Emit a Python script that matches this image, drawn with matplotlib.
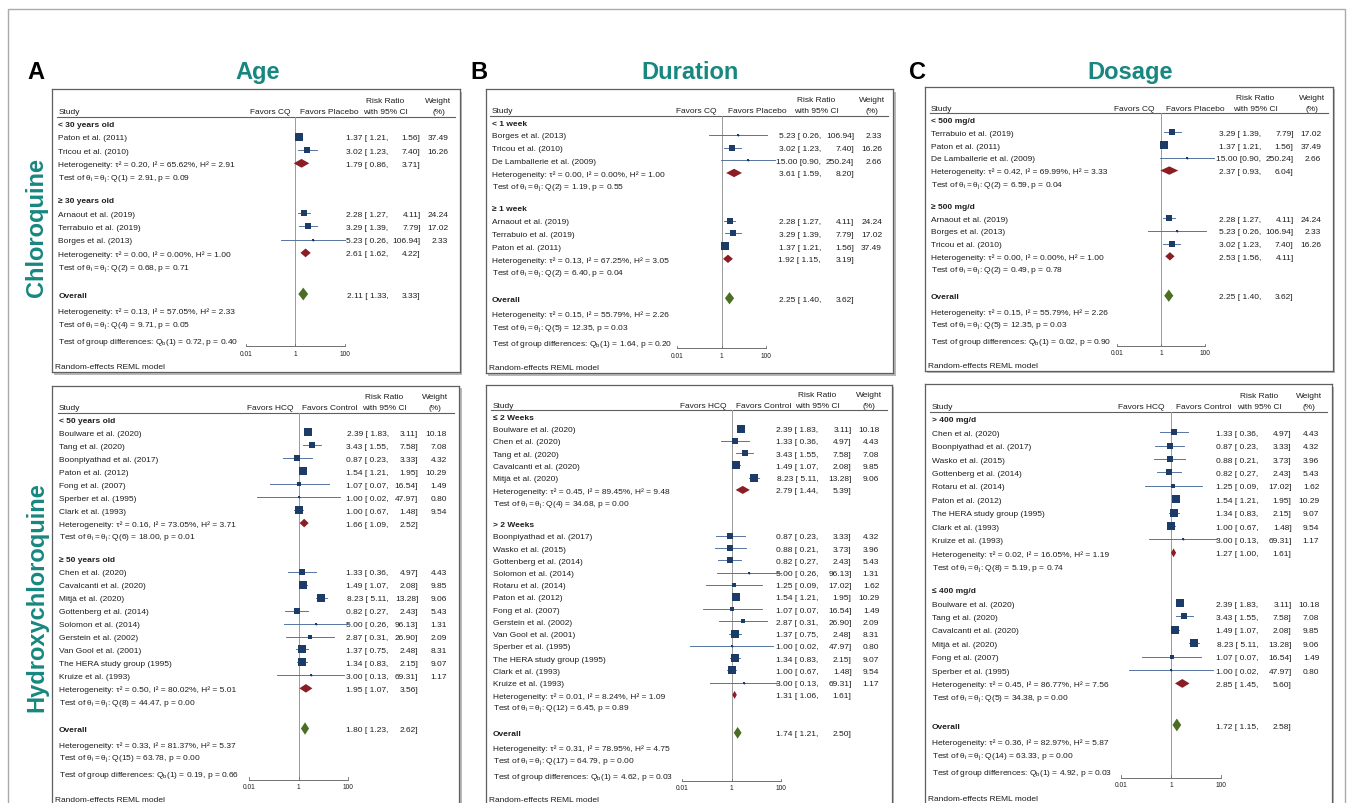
import numpy as np
import matplotlib
matplotlib.use('Agg')
import matplotlib.pyplot as plt
from matplotlib.patches import Rectangle

plt.rcParams['font.family'] = ['Liberation Sans', 'DejaVu Sans']
plt.rcParams['mathtext.fontset'] = 'custom'
plt.rcParams['mathtext.rm'] = 'Liberation Sans'
plt.rcParams['mathtext.it'] = 'Liberation Sans:italic'
plt.rcParams['mathtext.bf'] = 'Liberation Sans:bold'

# colours
TEAL = '#17877f'
INK = '#1e1e1e'
NAVY = '#1c3b66'
CI_BLUE = '#4b6b9b'
RED = '#8b1d25'
GREEN = '#4b6e24'
NULL_GRAY = '#9a9a9a'
BORDER = '#5f5f5f'
SHADOW = '#b8b8b8'

W, H = 1353, 804
TICKS = [0.01, 1, 100]
TICK_LABELS = ['0.01', '1', '100']

# ---- study level data ----
CQ_STUDY = ['Paton et al. (2011)', 'Tricou et al. (2010)', 'Arnaout et al. (2019)',
            'Terrabuio et al. (2019)', 'Borges et al. (2013)', 'De Lamballerie et al. (2009)']
CQ_RR = [1.37, 3.02, 2.28, 3.29, 5.23, 15.00]
CQ_LO = [1.21, 1.23, 1.27, 1.39, 0.26, 0.90]
CQ_HI = [1.56, 7.40, 4.11, 7.79, 106.94, 250.24]
CQ_WT = [37.49, 16.26, 24.24, 17.02, 2.33, 2.66]

HCQ_STUDY = ['Boulware et al. (2020)', 'Tang et al. (2020)', 'Boonpiyathad et al. (2017)',
             'Paton et al. (2012)', 'Fong et al. (2007)', 'Sperber et al. (1995)',
             'Clark et al. (1993)', 'Chen et al. (2020)', 'Cavalcanti et al. (2020)',
             'Mitjà et al. (2020)', 'Gottenberg et al. (2014)', 'Solomon et al. (2014)',
             'Gerstein et al. (2002)', 'Van Gool et al. (2001)', 'The HERA study group (1995)',
             'Kruize et al. (1993)', 'Wasko et al. (2015)', 'Rotaru et al. (2014)']
HCQ_RR = [2.39, 3.43, 0.87, 1.54, 1.07, 1.00, 1.00, 1.33, 1.49, 8.23, 0.82, 5.00,
          2.87, 1.37, 1.34, 3.00, 0.88, 1.25]
HCQ_LO = [1.83, 1.55, 0.23, 1.21, 0.07, 0.02, 0.67, 0.36, 1.07, 5.11, 0.27, 0.26,
          0.31, 0.75, 0.83, 0.13, 0.21, 0.09]
HCQ_HI = [3.11, 7.58, 3.33, 1.95, 16.54, 47.97, 1.48, 4.97, 2.08, 13.28, 2.43, 96.13,
          26.90, 2.48, 2.15, 69.31, 3.73, 17.02]
HCQ_WT = [10.18, 7.08, 4.32, 10.29, 1.49, 0.80, 9.54, 4.43, 9.85, 9.06, 5.43, 1.31,
          2.09, 8.31, 9.07, 1.17, 3.96, 1.62]

# ---- subgroup data (pooled: subgroups then overall) ----
A_CQ_GROUPS = ['< 30 years old', '≥ 30 years old']
A_CQ_MEMBERS = [['Paton et al. (2011)', 'Tricou et al. (2010)'],
                ['Arnaout et al. (2019)', 'Terrabuio et al. (2019)', 'Borges et al. (2013)']]
A_CQ_POOLED = [(1.79, 0.86, 3.71), (2.61, 1.62, 4.22), (2.11, 1.33, 3.33)]
A_CQ_HET = [(0.20, 65.62, 2.91), (0.00, 0.00, 1.00), (0.13, 57.05, 2.33)]
A_CQ_Q = [(1, 2.91, 0.09), (2, 0.68, 0.71), (4, 9.71, 0.05)]
A_CQ_QB = (1, 0.72, 0.40)

B_CQ_GROUPS = ['< 1 week', '≥ 1 week']
B_CQ_MEMBERS = [['Borges et al. (2013)', 'Tricou et al. (2010)', 'De Lamballerie et al. (2009)'],
                ['Arnaout et al. (2019)', 'Terrabuio et al. (2019)', 'Paton et al. (2011)']]
B_CQ_POOLED = [(3.61, 1.59, 8.20), (1.92, 1.15, 3.19), (2.25, 1.40, 3.62)]
B_CQ_HET = [(0.00, 0.00, 1.00), (0.13, 67.25, 3.05), (0.15, 55.79, 2.26)]
B_CQ_Q = [(2, 1.19, 0.55), (2, 6.40, 0.04), (5, 12.35, 0.03)]
B_CQ_QB = (1, 1.64, 0.20)

C_CQ_GROUPS = ['< 500 mg/d', '≥ 500 mg/d']
C_CQ_MEMBERS = [['Terrabuio et al. (2019)', 'Paton et al. (2011)', 'De Lamballerie et al. (2009)'],
                ['Arnaout et al. (2019)', 'Borges et al. (2013)', 'Tricou et al. (2010)']]
C_CQ_POOLED = [(2.37, 0.93, 6.04), (2.53, 1.56, 4.11), (2.25, 1.40, 3.62)]
C_CQ_HET = [(0.42, 69.99, 3.33), (0.00, 0.00, 1.00), (0.15, 55.79, 2.26)]
C_CQ_Q = [(2, 6.59, 0.04), (2, 0.49, 0.78), (5, 12.35, 0.03)]
C_CQ_QB = (1, 0.02, 0.90)

A_HCQ_GROUPS = ['< 50 years old', '≥ 50 years old']
A_HCQ_MEMBERS = [['Boulware et al. (2020)', 'Tang et al. (2020)', 'Boonpiyathad et al. (2017)',
                  'Paton et al. (2012)', 'Fong et al. (2007)', 'Sperber et al. (1995)',
                  'Clark et al. (1993)'],
                 ['Chen et al. (2020)', 'Cavalcanti et al. (2020)', 'Mitjà et al. (2020)',
                  'Gottenberg et al. (2014)', 'Solomon et al. (2014)', 'Gerstein et al. (2002)',
                  'Van Gool et al. (2001)', 'The HERA study group (1995)', 'Kruize et al. (1993)']]
A_HCQ_POOLED = [(1.66, 1.09, 2.52), (1.95, 1.07, 3.56), (1.80, 1.23, 2.62)]
A_HCQ_HET = [(0.16, 73.05, 3.71), (0.50, 80.02, 5.01), (0.33, 81.37, 5.37)]
A_HCQ_Q = [(6, 18.00, 0.01), (8, 44.47, 0.00), (15, 63.78, 0.00)]
A_HCQ_QB = (1, 0.19, 0.66)

B_HCQ_GROUPS = ['≤ 2 Weeks', '> 2 Weeks']
B_HCQ_MEMBERS = [['Boulware et al. (2020)', 'Chen et al. (2020)', 'Tang et al. (2020)',
                  'Cavalcanti et al. (2020)', 'Mitjà et al. (2020)'],
                 ['Boonpiyathad et al. (2017)', 'Wasko et al. (2015)', 'Gottenberg et al. (2014)',
                  'Solomon et al. (2014)', 'Rotaru et al. (2014)', 'Paton et al. (2012)',
                  'Fong et al. (2007)', 'Gerstein et al. (2002)', 'Van Gool et al. (2001)',
                  'Sperber et al. (1995)', 'The HERA study group (1995)', 'Clark et al. (1993)',
                  'Kruize et al. (1993)']]
B_HCQ_POOLED = [(2.79, 1.44, 5.39), (1.31, 1.06, 1.61), (1.74, 1.21, 2.50)]
B_HCQ_HET = [(0.45, 89.45, 9.48), (0.01, 8.24, 1.09), (0.31, 78.95, 4.75)]
B_HCQ_Q = [(4, 34.68, 0.00), (12, 6.45, 0.89), (17, 64.79, 0.00)]
B_HCQ_QB = (1, 4.62, 0.03)

C_HCQ_GROUPS = ['> 400 mg/d', '≤ 400 mg/d']
C_HCQ_MEMBERS = [['Chen et al. (2020)', 'Boonpiyathad et al. (2017)', 'Wasko et al. (2015)',
                  'Gottenberg et al. (2014)', 'Rotaru et al. (2014)', 'Paton et al. (2012)',
                  'The HERA study group (1995)', 'Clark et al. (1993)', 'Kruize et al. (1993)'],
                 ['Boulware et al. (2020)', 'Tang et al. (2020)', 'Cavalcanti et al. (2020)',
                  'Mitjà et al. (2020)', 'Fong et al. (2007)', 'Sperber et al. (1995)']]
C_HCQ_POOLED = [(1.27, 1.00, 1.61), (2.85, 1.45, 5.60), (1.72, 1.15, 2.58)]
C_HCQ_HET = [(0.02, 16.05, 1.19), (0.45, 86.77, 7.56), (0.36, 82.97, 5.87)]
C_HCQ_Q = [(8, 5.19, 0.74), (5, 34.38, 0.00), (14, 63.33, 0.00)]
C_HCQ_QB = (1, 4.92, 0.03)

STUDY_TABLES = {
    'CQ': (CQ_STUDY, CQ_RR, CQ_LO, CQ_HI, CQ_WT),
    'HCQ': (HCQ_STUDY, HCQ_RR, HCQ_LO, HCQ_HI, HCQ_WT),
}

# layout of each panel box, pixel offsets inside the box
PANELS = [
    dict(drug='CQ', data=(A_CQ_GROUPS, A_CQ_MEMBERS, A_CQ_POOLED, A_CQ_HET, A_CQ_Q, A_CQ_QB),
         box=(51.7, 90, 460, 373.3), study_x=6.6, null=243.6, dec=24.6,
         comma=336.6, hi=369, wt=396.6, rr_c=333.8, wt_c=386.8,
         favors=('Favors CQ', 'Favors Placebo'), gap=(5, 5)),
    dict(drug='CQ', data=(B_CQ_GROUPS, B_CQ_MEMBERS, B_CQ_POOLED, B_CQ_HET, B_CQ_Q, B_CQ_QB),
         box=(486, 90, 893, 374.3), study_x=5.7, null=235.7, dec=22.2,
         comma=335, hi=368, wt=396, rr_c=330, wt_c=386.3,
         favors=('Favors CQ', 'Favors Placebo'), gap=(5, 6)),
    dict(drug='CQ', data=(C_CQ_GROUPS, C_CQ_MEMBERS, C_CQ_POOLED, C_CQ_HET, C_CQ_Q, C_CQ_QB),
         box=(924.7, 87.7, 1332.7, 371.7), study_x=6.3, null=236.3, dec=22.1,
         comma=336.3, hi=369, wt=396.6, rr_c=330.6, wt_c=387,
         favors=('Favors CQ', 'Favors Placebo'), gap=(6, 5)),
    dict(drug='HCQ', data=(A_HCQ_GROUPS, A_HCQ_MEMBERS, A_HCQ_POOLED, A_HCQ_HET, A_HCQ_Q, A_HCQ_QB),
         box=(52.3, 386.7, 459.3, 806), study_x=6.7, null=246.4, dec=24.8,
         comma=336.4, hi=366, wt=394.4, rr_c=332, wt_c=382.7,
         favors=('Favors HCQ', 'Favors Control'), gap=(5, 3)),
    dict(drug='HCQ', data=(B_HCQ_GROUPS, B_HCQ_MEMBERS, B_HCQ_POOLED, B_HCQ_HET, B_HCQ_Q, B_HCQ_QB),
         box=(486, 385.7, 891.7, 806), study_x=6.7, null=245.7, dec=24.75,
         comma=332.3, hi=365.7, wt=393.3, rr_c=331.3, wt_c=383.3,
         favors=('Favors HCQ', 'Favors Control'), gap=(5, 4)),
    dict(drug='HCQ', data=(C_HCQ_GROUPS, C_HCQ_MEMBERS, C_HCQ_POOLED, C_HCQ_HET, C_HCQ_Q, C_HCQ_QB),
         box=(925, 385, 1331.7, 805), study_x=6.7, null=246, dec=24.8,
         comma=333.3, hi=366.7, wt=394.3, rr_c=334.5, wt_c=384.3,
         favors=('Favors HCQ', 'Favors Control'), gap=(6, 5.5)),
]

FS = 6.0  # main text size (pt)
TDY = 0.08  # small downward nudge of text rows


def fig_rect(x0, y0, x1, y1):
    return [x0 / W, 1 - y1 / H, (x1 - x0) / W, (y1 - y0) / H]


def est_text(e, lo):
    if e >= 10:
        return f"{e:.2f} [{lo:.2f},"
    return f"{e:.2f} [ {lo:.2f},"


def draw_panel(fig, p):
    x0, y0, x1, y1 = p['box']
    groups, members, pooled, het, qs, qb = p['data']
    study, rr, lo, hi, wt = STUDY_TABLES[p['drug']]
    idx = {n: i for i, n in enumerate(study)}

    # row positions (row units)
    rows = []
    y = 0.0
    for gi, names in enumerate(members):
        if gi:
            y += 1.75
        rows.append(('group', y, gi))
        for n in names:
            y += 1.0
            rows.append(('study', y, idx[n]))
        y += 1.0
        rows.append(('het', y, gi))
        y += 1.0
        rows.append(('test', y, gi))
    ng = len(members)
    y += 2.1
    rows.append(('overall', y, ng))
    y += 1.2
    rows.append(('het', y, ng))
    y += 1.0
    rows.append(('test', y, ng))
    y += 1.3
    rows.append(('qb', y, None))
    G = y
    ylim = (G + 2.4, -2.6)

    # shadow + framed box
    fig.add_artist(Rectangle(((x0 + 2.5) / W, 1 - (y1 + 2.5) / H), (x1 - x0) / W, (y1 - y0) / H,
                             transform=fig.transFigure, facecolor=SHADOW,
                             edgecolor='none', zorder=0))
    ax = fig.add_axes(fig_rect(x0, y0, x1, y1))
    ax.set_zorder(1)
    ax.set_xlim(0, x1 - x0)
    ax.set_ylim(*ylim)
    ax.set_xticks([])
    ax.set_yticks([])
    for s in ax.spines.values():
        s.set_color(BORDER)
        s.set_linewidth(0.9)

    null, dec = p['null'], p['dec']
    fx = fig.add_axes(fig_rect(x0 + null - 2 * dec, y0, x0 + null + 2 * dec, y1))
    fx.set_zorder(2)
    fx.patch.set_alpha(0)
    fx.set_xscale('log')
    fx.set_xlim(TICKS[0], TICKS[-1])
    fx.set_ylim(*ylim)
    fx.axis('off')

    sx = p['study_x']

    def put(x, yy, s, ha='left', **kw):
        ax.text(x, yy + TDY, s, fontsize=FS, color=INK, ha=ha, va='center', **kw)

    # header
    put(sx, -1.0, 'Study')
    put(null - p['gap'][0], -1.0, p['favors'][0], ha='right')
    put(null + p['gap'][1], -1.0, p['favors'][1])
    put(p['rr_c'], -1.85, 'Risk Ratio', ha='center')
    put(p['rr_c'], -1.0, 'with 95% CI', ha='center')
    put(p['wt_c'], -1.85, 'Weight', ha='center')
    put(p['wt_c'], -1.0, '(%)', ha='center')
    ax.plot([sx - 1.5, x1 - x0 - 5], [-0.5, -0.5], color=BORDER, lw=0.8)

    # null line and x axis
    axis_y = G + 0.45
    fx.plot([1, 1], [-0.5, axis_y], color=NULL_GRAY, lw=0.7, zorder=1)
    fx.plot([TICKS[0], TICKS[-1]], [axis_y, axis_y], color='#707070', lw=0.7, clip_on=False)
    for t, lab in zip(TICKS, TICK_LABELS):
        fx.plot([t, t], [axis_y, axis_y - 0.18], color='#707070', lw=0.6, clip_on=False)
        fx.text(t, G + 0.98, lab, fontsize=4.8, color=INK, ha='center', va='center')
    put(3, G + 1.9, 'Random-effects REML model')

    wmax = max(wt[idx[n]] for names in members for n in names)

    for kind, yy, k in rows:
        if kind == 'group':
            put(sx, yy, groups[k], fontweight='bold')
        elif kind == 'study':
            e, l, h, w = rr[k], lo[k], hi[k], wt[k]
            put(sx, yy, study[k])
            fx.plot([l, h], [yy, yy], color=CI_BLUE, lw=0.65, clip_on=False, zorder=2)
            side = 8.3 * np.sqrt(w / wmax) * 0.72
            fx.scatter([e], [yy], marker='s', s=side ** 2, color=NAVY, lw=0,
                       clip_on=False, zorder=3)
            fx.plot([e], [yy], 'o', ms=1.4, color=NAVY, mew=0, clip_on=False, zorder=4)
            put(p['comma'], yy, est_text(e, l), ha='right')
            put(p['hi'], yy, f"{h:.2f}]", ha='right')
            put(p['wt'], yy, f"{w:.2f}", ha='right')
        elif kind == 'het':
            t2, i2, h2 = het[k]
            put(sx, yy, f"Heterogeneity: τ² = {t2:.2f}, I² = {i2:.2f}%, H² = {h2:.2f}")
            if k < ng:
                e, l, h = pooled[k]
                dh = 0.33
                fx.fill([l, e, h, e], [yy, yy - dh, yy, yy + dh], color=RED, lw=0,
                        clip_on=False, zorder=3)
                put(p['comma'], yy, est_text(e, l), ha='right')
                put(p['hi'], yy, f"{h:.2f}]", ha='right')
        elif kind == 'test':
            df, q, pv = qs[k]
            put(sx, yy, f"Test of $\\mathregular{{\\theta_i = \\theta_j}}$: Q({df}) = {q:.2f}, p = {pv:.2f}")
        elif kind == 'overall':
            e, l, h = pooled[k]
            put(sx, yy, 'Overall', fontweight='bold')
            dh = 0.48
            fx.fill([l, e, h, e], [yy, yy - dh, yy, yy + dh], color=GREEN, lw=0,
                    clip_on=False, zorder=3)
            put(p['comma'], yy, est_text(e, l), ha='right')
            put(p['hi'], yy, f"{h:.2f}]", ha='right')
        elif kind == 'qb':
            df, q, pv = qb
            put(sx, yy, f"Test of group differences: $\\mathregular{{Q_b}}$({df}) = {q:.2f}, p = {pv:.2f}")


fig = plt.figure(figsize=(W / 100, H / 100), dpi=100)
fig.patch.set_facecolor('white')

# outer frame
fig.add_artist(Rectangle((8 / W, 1 - 830 / H), (1345 - 8) / W, (830 - 10) / H,
                         transform=fig.transFigure, facecolor='none',
                         edgecolor='#aaaaaa', lw=1.0, zorder=0))

for p in PANELS:
    draw_panel(fig, p)

# panel letters and titles
for letter, lx, title, tx in [('A', 35.5, 'Age', 257.2), ('B', 479, 'Duration', 690.5),
                              ('C', 918, 'Dosage', 1130)]:
    fig.text(lx / W, 1 - 79.3 / H, letter, fontsize=17, fontweight='bold', color='black',
             ha='center', va='baseline')
    fig.text(tx / W, 1 - 79.3 / H, title, fontsize=17, fontweight='bold', color=TEAL,
             ha='center', va='baseline')

fig.text(36.5 / W, 1 - 228 / H, 'Chloroquine', fontsize=17, fontweight='bold', color=TEAL,
         rotation=90, ha='center', va='center')
fig.text(36.7 / W, 1 - 597.5 / H, 'Hydroxychloroquine', fontsize=17, fontweight='bold',
         color=TEAL, rotation=90, ha='center', va='center')

fig.savefig('out.png', dpi=100, facecolor='white')
